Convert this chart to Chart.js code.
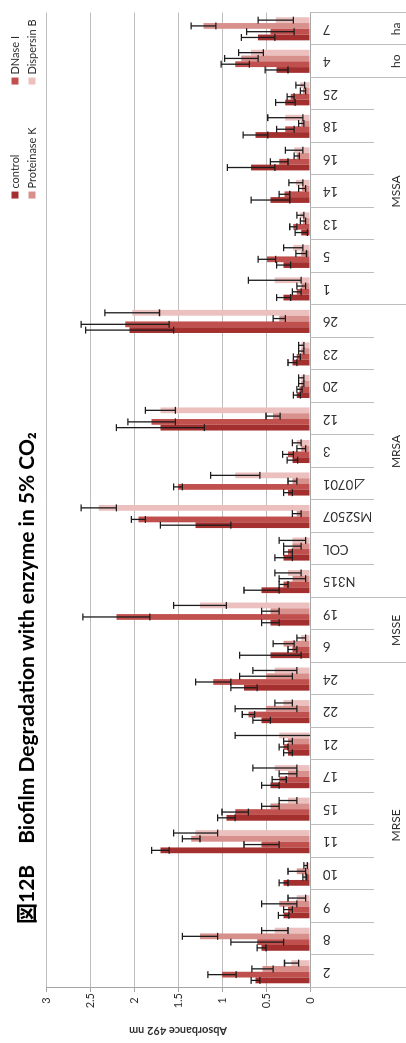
<!DOCTYPE html>
<html>
<head>
<meta charset="utf-8">
<script src="https://cdn.jsdelivr.net/npm/chart.js@4/dist/chart.umd.min.js"></script>
<style>
  html, body { margin: 0; padding: 0; background: #ffffff; }
  body { width: 406px; height: 1043px; overflow: hidden; position: relative; }
  /* the chart is laid out landscape and turned a quarter turn to stand upright */
  #frame {
    position: absolute; left: 0; top: 0;
    width: 1043px; height: 406px;
    transform-origin: 0 0;
    transform: translateY(1043px) rotate(-90deg);
  }
  canvas { display: block; }
</style>
</head>
<body>
<div id="frame"><canvas id="c" width="1043" height="406"></canvas></div>
<script>
const chartTitle = '図12B　Biofilm Degradation with enzyme in 5% CO₂';
const axisTitle = 'Absorbance 492 nm';

const categories = ['2', '8', '9', '10', '11', '15', '17', '21', '22', '24',
                    '6', '19',
                    'N315', 'COL', 'MS2507', '⊿0701', '3', '12', '20', '23', '26',
                    '1', '5', '13', '14', '16', '18', '25',
                    '4', '7'];
const groupNames = ['MRSE', 'MSSE', 'MRSA', 'MSSA', 'ho', 'ha'];
const groupSizes = [10, 2, 9, 7, 1, 1];

const seriesNames = ['control', 'DNase I', 'Proteinase K', 'Dispersin B'];
const seriesColors = ['#a3302f', '#c0504d', '#d8908d', '#ebc0bf'];
const valueTicks = ['0', '0.5', '1', '1.5', '2', '2.5', '3'];

const control    = [0.62, 0.55, 0.30, 0.30, 1.70, 0.95, 0.45, 0.25, 0.55, 0.75,
                    0.45, 0.45,
                    0.55, 0.30, 1.30, 0.25, 0.20, 1.70, 0.15, 0.20, 2.05,
                    0.30, 0.30, 0.10, 0.45, 0.67, 0.62, 0.28,
                    0.38, 0.59];
const controlErr = [0.05, 0.05, 0.06, 0.05, 0.10, 0.10, 0.10, 0.05, 0.10, 0.15,
                    0.35, 0.10,
                    0.20, 0.10, 0.40, 0.05, 0.06, 0.50, 0.04, 0.05, 0.50,
                    0.08, 0.08, 0.07, 0.22, 0.27, 0.14, 0.11,
                    0.13, 0.19];
const dnase      = [1.00, 0.60, 0.25, 0.06, 0.55, 0.85, 0.35, 0.30, 0.70, 1.10,
                    0.20, 2.20,
                    0.30, 0.25, 1.95, 1.50, 0.25, 1.80, 0.12, 0.15, 2.10,
                    0.15, 0.49, 0.19, 0.29, 0.35, 0.28, 0.22,
                    0.85, 0.45];
const dnaseErr   = [0.16, 0.30, 0.05, 0.02, 0.20, 0.15, 0.08, 0.05, 0.07, 0.20,
                    0.05, 0.38,
                    0.05, 0.05, 0.08, 0.05, 0.06, 0.27, 0.03, 0.04, 0.50,
                    0.05, 0.10, 0.04, 0.06, 0.10, 0.10, 0.04,
                    0.16, 0.27];
const proteinaseK    = [0.54, 1.25, 0.35, 0.15, 1.35, 0.45, 0.25, 0.25, 0.50, 0.50,
                        0.30, 0.45,
                        0.20, 0.20, 0.15, 0.20, 0.10, 0.42, 0.10, 0.10, 0.35,
                        0.10, 0.10, 0.08, 0.09, 0.15, 0.10, 0.08,
                        0.78, 1.21];
const proteinaseKErr = [0.12, 0.20, 0.20, 0.10, 0.10, 0.10, 0.10, 0.05, 0.35, 0.30,
                        0.12, 0.10,
                        0.15, 0.10, 0.05, 0.05, 0.05, 0.08, 0.03, 0.03, 0.07,
                        0.05, 0.06, 0.03, 0.04, 0.03, 0.03, 0.03,
                        0.19, 0.14];
const dispersinB    = [0.21, 0.40, 0.15, 0.05, 1.30, 0.25, 0.40, 0.35, 0.30, 0.40,
                       0.10, 1.25,
                       0.25, 0.20, 2.40, 0.85, 0.15, 1.70, 0.10, 0.10, 2.02,
                       0.40, 0.19, 0.11, 0.16, 0.18, 0.28, 0.11,
                       0.67, 0.39];
const dispersinBErr = [0.08, 0.15, 0.10, 0.02, 0.25, 0.10, 0.25, 0.50, 0.10, 0.25,
                       0.05, 0.30,
                       0.15, 0.15, 0.20, 0.28, 0.05, 0.17, 0.03, 0.03, 0.31,
                       0.30, 0.11, 0.04, 0.08, 0.10, 0.20, 0.05,
                       0.14, 0.20];

const seriesValues = [control, dnase, proteinaseK, dispersinB];
const seriesErrors = [controlErr, dnaseErr, proteinaseKErr, dispersinBErr];

const latin = 'Lato, "Noto Sans CJK JP", sans-serif';
const textColor = '#2e2e2e';
const lineGrey = '#bdbdbd';

// error bars, multi-level category dividers, group names, title and legend
const decorations = {
  id: 'decorations',
  afterDatasetsDraw(chart) {
    const ctx = chart.ctx;
    const yS = chart.scales.y;
    ctx.save();
    ctx.strokeStyle = '#1c1c1c';
    ctx.lineWidth = 1.3;
    chart.data.datasets.forEach((ds, di) => {
      const meta = chart.getDatasetMeta(di);
      const errs = seriesErrors[di];
      meta.data.forEach((bar, i) => {
        const v = ds.data[i], e = errs[i];
        const hi = yS.getPixelForValue(v + e);
        const lo = yS.getPixelForValue(Math.max(v - e, 0));
        const cap = Math.max(2.5, bar.width * 0.6);
        ctx.beginPath();
        ctx.moveTo(bar.x, lo); ctx.lineTo(bar.x, hi);
        ctx.moveTo(bar.x - cap, hi); ctx.lineTo(bar.x + cap, hi);
        if (v - e > 0) { ctx.moveTo(bar.x - cap, lo); ctx.lineTo(bar.x + cap, lo); }
        ctx.stroke();
      });
    });
    ctx.restore();
  },
  afterDraw(chart) {
    const ctx = chart.ctx;
    const xS = chart.scales.x;
    const area = chart.chartArea;
    const step = xS.getPixelForValue(1) - xS.getPixelForValue(0);
    const first = xS.getPixelForValue(0) - step / 2;
    const n = categories.length;

    // category dividers below the axis; group borders run to the bottom edge
    const groupEdges = new Set([0]);
    let acc = 0;
    groupSizes.forEach(s => { acc += s; groupEdges.add(acc); });
    ctx.save();
    ctx.strokeStyle = lineGrey;
    ctx.lineWidth = 1;
    for (let i = 0; i <= n; i++) {
      const px = Math.round(first + i * step) + 0.5;
      const end = groupEdges.has(i) ? chart.height : area.bottom + 64;
      ctx.beginPath();
      ctx.moveTo(px, area.bottom); ctx.lineTo(px, end);
      ctx.stroke();
    }

    // group names
    ctx.fillStyle = textColor;
    ctx.font = '12px ' + latin;
    ctx.textAlign = 'center';
    ctx.textBaseline = 'middle';
    let start = 0;
    groupNames.forEach((g, gi) => {
      const mid = first + (start + groupSizes[gi] / 2) * step;
      ctx.fillText(g, mid, area.bottom + 86);
      start += groupSizes[gi];
    });

    // title
    ctx.font = 'bold 21px ' + latin;
    ctx.textAlign = 'left';
    ctx.fillStyle = '#000000';
    ctx.fillText(chartTitle, area.left + 64, 27);

    // legend, two rows by two columns
    const colX = [area.right - 186, area.right - 72];
    const rowY = [15, 32];
    ctx.font = '11px ' + latin;
    seriesNames.forEach((name, si) => {
      const cx = colX[si % 2], cy = rowY[Math.floor(si / 2)];
      ctx.fillStyle = seriesColors[si];
      ctx.fillRect(cx, cy - 3.5, 7, 7);
      ctx.fillStyle = textColor;
      ctx.fillText(name, cx + 10, cy);
    });
    ctx.restore();
  }
};

new Chart(document.getElementById('c'), {
  type: 'bar',
  data: {
    labels: categories,
    datasets: seriesNames.map((name, si) => ({
      label: name,
      data: seriesValues[si],
      backgroundColor: seriesColors[si],
      borderWidth: 0,
      categoryPercentage: 0.71,
      barPercentage: 1.0
    }))
  },
  options: {
    responsive: false,
    animation: false,
    devicePixelRatio: 1,
    layout: { padding: { top: 46, right: 12, left: 0, bottom: 0 } },
    plugins: {
      legend: { display: false },
      title: { display: false },
      tooltip: { enabled: false }
    },
    scales: {
      x: {
        grid: { display: false, drawTicks: false },
        border: { display: true, color: '#a6a6a6' },
        ticks: {
          autoSkip: false, minRotation: 90, maxRotation: 90,
          padding: 13, color: textColor, font: { family: latin, size: 13 }
        },
        afterFit(s) { s.height = 96; }
      },
      y: {
        min: 0, max: 3,
        grid: { color: lineGrey, lineWidth: 1, drawTicks: true, tickLength: 4, tickColor: '#a6a6a6' },
        border: { display: true, color: '#a6a6a6' },
        ticks: {
          stepSize: 0.5, padding: 1, crossAlign: 'center',
          color: textColor, font: { family: latin, size: 11 },
          callback: (v, i) => valueTicks[i]
        },
        title: {
          display: true, text: axisTitle, color: textColor,
          font: { family: latin, size: 11, weight: 'bold' },
          padding: { top: 6, bottom: 0 }
        },
        afterFit(s) { s.width = 55; }
      }
    }
  },
  plugins: [decorations]
});
</script>
</body>
</html>
